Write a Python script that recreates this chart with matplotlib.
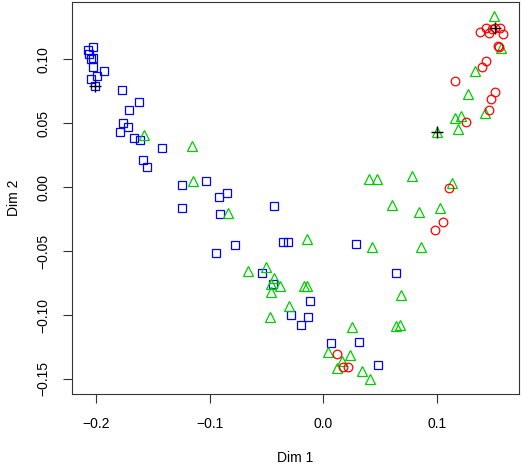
import matplotlib
matplotlib.use('Agg')
import matplotlib.pyplot as plt

plt.rcParams['font.family'] = ['Liberation Sans', 'DejaVu Sans']

# group 1 (blue squares)
blue_x = [-0.2026, -0.2070, -0.2059, -0.2041, -0.2024, -0.2024, -0.1930, -0.1991, -0.2044, -0.2006,
          -0.1771, -0.1624, -0.1710, -0.1765, -0.1721, -0.1792, -0.1666, -0.1610, -0.1420, -0.1584,
          -0.1552, -0.1241, -0.1035, -0.0848, -0.0918, -0.1241, -0.0437, -0.0907, -0.0778, -0.0942,
          -0.0353, -0.0311, -0.0540, -0.0446, -0.0287, 0.0290, 0.0641, -0.0120, -0.0133, -0.0194,
          0.0064, 0.0316, 0.0477]
blue_y = [0.1094, 0.1075, 0.1044, 0.1005, 0.1008, 0.0940, 0.0911, 0.0869, 0.0846, 0.0791,
          0.0758, 0.0668, 0.0606, 0.0500, 0.0468, 0.0429, 0.0387, 0.0367, 0.0306, 0.0210,
          0.0155, 0.0019, 0.0048, -0.0046, -0.0077, -0.0165, -0.0145, -0.0207, -0.0450, -0.0517,
          -0.0431, -0.0426, -0.0671, -0.0760, -0.0997, -0.0447, -0.0671, -0.0888, -0.1015, -0.1078,
          -0.1216, -0.1213, -0.1388]

# group 2 (green triangles)
green_x = [-0.1578, -0.1155, -0.1144, -0.0842, -0.0663, -0.0505, -0.0434, -0.0463, -0.0382, -0.0463,
           -0.0305, -0.0467, -0.0141, -0.0170, -0.0141, 0.0254, 0.0043, 0.0232, 0.0162, 0.0120,
           0.0337, 0.0410, 0.0634, 0.0674, 0.0686, 0.0429, 0.0861, 0.0599, 0.0841, 0.1025,
           0.0398, 0.0471, 0.0782, 0.1130, 0.0997, 0.1157, 0.1206, 0.1186, 0.1421, 0.1274,
           0.1331, 0.1565, 0.1502]
green_y = [0.0410, 0.0322, 0.0051, -0.0204, -0.0658, -0.0627, -0.0710, -0.0757, -0.0770, -0.0822,
           -0.0927, -0.1015, -0.0405, -0.0770, -0.0770, -0.1096, -0.1291, -0.1315, -0.1357, -0.1414,
           -0.1435, -0.1498, -0.1083, -0.1078, -0.0846, -0.0465, -0.0470, -0.0142, -0.0192, -0.0163,
           0.0060, 0.0062, 0.0090, 0.0033, 0.0434, 0.0537, 0.0554, 0.0453, 0.0578, 0.0731,
           0.0910, 0.1084, 0.1341]

# group 3 (red circles)
red_x = [0.1377, 0.1430, 0.1454, 0.1480, 0.1509, 0.1553, 0.1580, 0.1533, 0.1544, 0.1430,
         0.1398, 0.1160, 0.1509, 0.1471, 0.1459, 0.1250, 0.1049, 0.0981, 0.1105, 0.0123,
         0.0170, 0.0214]
red_y = [0.1213, 0.1247, 0.1203, 0.1235, 0.1247, 0.1245, 0.1200, 0.1104, 0.1094, 0.0989,
         0.0940, 0.0830, 0.0747, 0.0692, 0.0600, 0.0512, -0.0270, -0.0337, -0.0009, -0.1302,
         -0.1404, -0.1404]

# group centres
cent_x = [-0.2006, 0.0997, 0.1506]
cent_y = [0.0791, 0.0434, 0.1247]

fig = plt.figure(figsize=(5.23, 4.69), dpi=100)
ax = fig.add_axes([0.137, 0.160, 0.856, 0.836])

ax.plot(blue_x, blue_y, 's', ms=6.0, mfc='none', mec='#0000FF', mew=0.9, linestyle='none')
ax.plot(green_x, green_y, '^', ms=7.0, mfc='none', mec='#00CD00', mew=0.9, linestyle='none')
ax.plot(red_x, red_y, 'o', ms=6.2, mfc='none', mec='#FF0000', mew=0.9, linestyle='none')
ax.plot(cent_x, cent_y, '+', ms=9, mec='black', mew=1.0, linestyle='none')

ax.set_xlim(-0.2214, 0.1723)
ax.set_ylim(-0.1617, 0.1448)

ax.set_xticks([-0.2, -0.1, 0.0, 0.1])
ax.set_xticklabels(['\u22120.2', '\u22120.1', '0.0', '0.1'])
ax.set_yticks([-0.15, -0.10, -0.05, 0.00, 0.05, 0.10])
ax.set_yticklabels(['\u22120.15', '\u22120.10', '\u22120.05', '0.00', '0.05', '0.10'],
                   rotation=90, va='center')

ax.tick_params(axis='x', direction='out', length=6.7, width=0.8, pad=10, labelsize=10, color='#333333')
ax.tick_params(axis='y', direction='out', length=6.7, width=0.8, pad=8.5, labelsize=10, color='#333333')
for s in ax.spines.values():
    s.set_color('#333333')
    s.set_linewidth(0.8)

fig.text(294.7 / 523, 1 - 458 / 469, 'Dim 1', ha='center', va='center', fontsize=10)
fig.text(13.5 / 523, 1 - 198 / 469, 'Dim 2', ha='center', va='center', fontsize=10, rotation=90)

plt.savefig('out.png', dpi=100)
